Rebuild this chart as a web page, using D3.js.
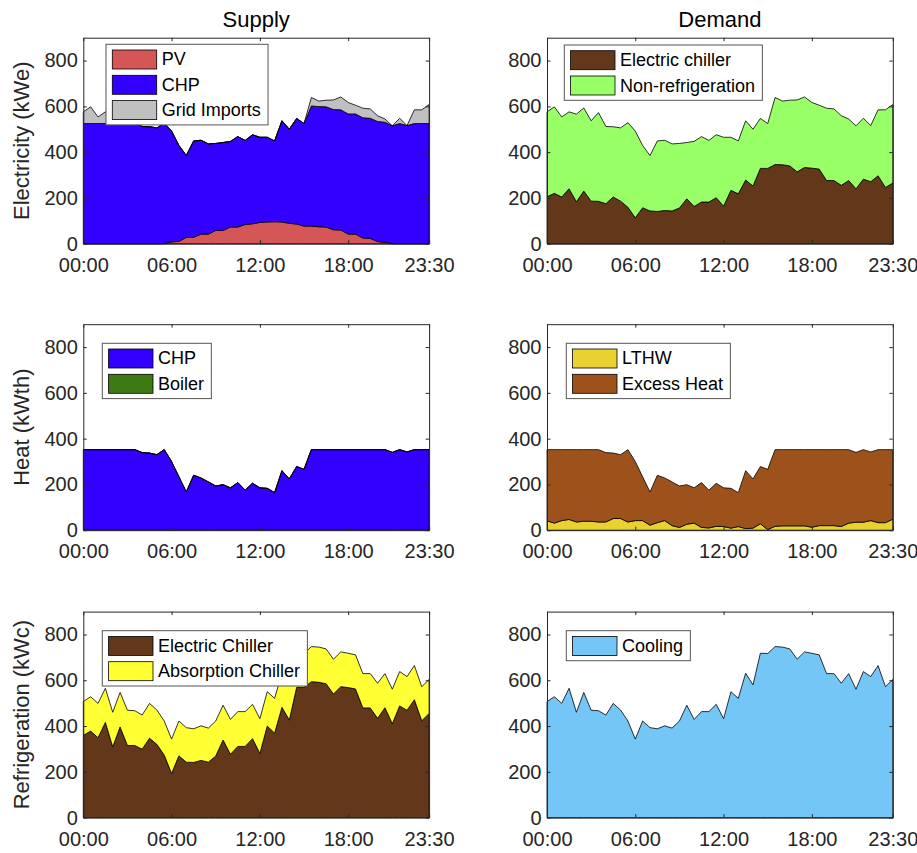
<!DOCTYPE html>
<html>
<head>
<meta charset="utf-8">
<script src="https://cdn.jsdelivr.net/npm/d3@7"></script>
<style>
  html, body { margin: 0; padding: 0; background: #fff; }
  svg { display: block; font-family: "Liberation Sans", Arial, Helvetica, sans-serif; }
</style>
</head>
<body>
<svg id="chart" width="917" height="853"></svg>
<script>
// Half-hourly time steps over one day (index 0 = 00:00, 47 = 23:30)
const timeIndex = d3.range(48);
const xTickIndex = [0, 12, 24, 36, 47];
const xTickLabels = ["00:00", "06:00", "12:00", "18:00", "23:30"];
const yTicks = [0, 200, 400, 600, 800];
const yMax = 900;

// Electricity supply (kWe)
const pvElec = [0,0,0,0,0,0,0,0,0,0,0,0,
  8,10,28,28,42,42,58,58,73,73,84,87,
  93,95,96,95,89,86,77,77,74,73,61,60,
  42,42,25,23,9,6,0,0,0,0,0,0];
const chpElec = [525,525,525,525,525,525,525,525,512,511,506,525,
  484,419,357,421,410,394,380,384,374,395,367,389,
  372,370,353,442,411,461,448,525,525,525,525,525,
  525,525,525,525,525,525,515,525,516,525,525,525];
const gridImports = [51,73,29,51,41,68,12,48,0,0,0,4,
  0,0,0,0,0,0,0,0,0,0,0,0,
  0,0,0,0,0,0,0,37,24,29,42,56,
  50,38,42,41,25,14,0,23,0,60,60,83];

// Electricity demand (kWe)
const elecChillerElec = [205,220,204,240,183,230,186,185,175,204,186,159,
  113,157,143,141,145,143,156,196,163,182,182,201,
  164,233,218,278,252,329,329,346,345,340,314,333,
  330,326,276,276,255,276,240,282,271,297,246,265];
const nonRefrigElec = [371,378,350,336,383,363,351,388,337,307,320,370,
  379,272,242,308,307,293,282,246,284,286,269,275,
  301,232,231,259,248,218,196,293,278,287,314,308,
  287,279,316,313,304,269,275,266,245,288,339,343];

// Heat supply (kWth)
const chpHeat = [352,352,352,352,352,352,352,352,339,337,330,352,
  300,233,167,240,228,211,193,199,185,208,175,205,
  185,183,164,260,224,278,266,352,352,352,352,352,
  352,352,352,352,352,352,340,352,342,352,352,352];
const boilerHeat = [0,0,0,0,0,0,0,0,0,0,0,0,
  0,0,0,0,0,0,0,0,0,0,0,0,
  0,0,0,0,0,0,0,0,0,0,0,0,
  0,0,0,0,0,0,0,0,0,0,0,0];

// Heat demand (kWth)
const lthwHeat = [41,31,42,47,36,39,39,36,36,51,51,36,
  42,42,22,33,42,20,12,26,31,12,10,17,
  16,9,16,7,9,28,3,17,19,19,19,19,
  13,20,20,20,16,31,35,35,42,33,33,48];
const excessHeat = [311,321,310,305,316,313,313,316,303,286,279,316,
  258,191,145,207,186,191,181,173,154,196,165,188,
  169,174,148,253,215,250,263,335,333,333,333,333,
  339,332,332,332,336,321,305,317,300,319,319,304];

// Refrigeration supply (kWc)
const elecChillerCool = [359,378,349,416,309,396,315,315,299,347,320,273,
  193,270,242,241,250,242,269,339,277,311,311,345,
  280,400,369,482,426,569,569,594,591,585,540,572,
  568,562,479,479,434,480,410,488,469,515,423,455];
const absorptionCool = [148,150,150,149,151,151,154,152,149,152,150,149,
  150,152,151,147,151,149,153,152,152,152,152,150,
  152,150,152,149,154,149,148,153,154,152,152,152,
  150,149,150,150,153,149,151,150,147,149,149,148];

// Refrigeration demand (kWc)
const coolingDemand = [507,528,499,565,460,547,469,467,448,499,470,422,
  343,422,393,388,401,391,422,491,429,463,463,495,
  432,550,521,631,580,718,717,747,745,737,692,724,
  718,711,629,629,587,629,561,638,616,664,572,603];

// Grid of panels
const colX = [83.3, 547];
const rowY = [37.7, 324.2, 611.6];
const panelW = 345.8, panelH = 206;
const axisColor = "#262626";

const panels = [
  { col: 0, row: 0, title: "Supply", ylabel: "Electricity (kWe)", legendAt: [106, 44.3],
    series: [
      { name: "PV", values: pvElec, color: "#d45656" },
      { name: "CHP", values: chpElec, color: "#3300ff" },
      { name: "Grid Imports", values: gridImports, color: "#c0c0c0" }
    ] },
  { col: 1, row: 0, title: "Demand", legendAt: [564.3, 45],
    series: [
      { name: "Electric chiller", values: elecChillerElec, color: "#633719" },
      { name: "Non-refrigeration", values: nonRefrigElec, color: "#99ff66" }
    ] },
  { col: 0, row: 1, ylabel: "Heat (kWth)", legendAt: [102.3, 343.3],
    series: [
      { name: "CHP", values: chpHeat, color: "#3300ff" },
      { name: "Boiler", values: boilerHeat, color: "#3d7a14" }
    ] },
  { col: 1, row: 1, legendAt: [566.3, 343.3],
    series: [
      { name: "LTHW", values: lthwHeat, color: "#e8d130" },
      { name: "Excess Heat", values: excessHeat, color: "#9e521b" }
    ] },
  { col: 0, row: 2, ylabel: "Refrigeration (kWc)", legendAt: [102.3, 630.7],
    series: [
      { name: "Electric Chiller", values: elecChillerCool, color: "#633719" },
      { name: "Absorption Chiller", values: absorptionCool, color: "#ffff33" }
    ] },
  { col: 1, row: 2, legendAt: [566.3, 630.7],
    series: [
      { name: "Cooling", values: coolingDemand, color: "#73c6f6" }
    ] }
];

const svg = d3.select("#chart");

const x = d3.scaleLinear().domain([0, 47]).range([0, panelW]);
const y = d3.scaleLinear().domain([0, yMax]).range([panelH, 0]);

function styleAxis(g) {
  g.attr("font-size", null).attr("font-family", null);
  g.select(".domain").attr("stroke", axisColor).attr("stroke-width", 1);
  g.selectAll(".tick line").attr("stroke", axisColor).attr("stroke-width", 1);
  g.selectAll(".tick text").attr("fill", axisColor).style("font-size", "20px");
}

panels.forEach(p => {
  const ox = colX[p.col], oy = rowY[p.row];
  const g = svg.append("g").attr("transform", `translate(${ox},${oy})`);

  // stacked areas
  const keys = p.series.map(s => s.name);
  const table = timeIndex.map(t => {
    const row = { t };
    p.series.forEach(s => { row[s.name] = s.values[t]; });
    return row;
  });
  const stacked = d3.stack().keys(keys)(table);
  const area = d3.area()
    .x(d => x(d.data.t))
    .y0(d => y(d[0]))
    .y1(d => y(d[1]));

  g.selectAll("path.layer")
    .data(stacked)
    .join("path")
    .attr("class", "layer")
    .attr("d", area)
    .attr("fill", (d, i) => p.series[i].color)
    .attr("stroke", "#000")
    .attr("stroke-width", 0.8)
    .attr("stroke-linejoin", "round");

  // axes on all four sides, ticks pointing inward
  g.append("g").attr("transform", `translate(0,${panelH})`)
    .call(d3.axisBottom(x).tickValues(xTickIndex)
      .tickFormat((d, i) => xTickLabels[i])
      .tickSizeInner(-3.5).tickSizeOuter(0).tickPadding(14))
    .call(styleAxis);
  g.append("g")
    .call(d3.axisTop(x).tickValues(xTickIndex).tickFormat("")
      .tickSizeInner(-3.5).tickSizeOuter(0))
    .call(styleAxis);
  g.append("g")
    .call(d3.axisLeft(y).tickValues(yTicks)
      .tickSizeInner(-3.5).tickSizeOuter(0).tickPadding(5.5))
    .call(styleAxis);
  g.append("g").attr("transform", `translate(${panelW},0)`)
    .call(d3.axisRight(y).tickValues(yTicks).tickFormat("")
      .tickSizeInner(-3.5).tickSizeOuter(0))
    .call(styleAxis);

  if (p.title) {
    g.append("text")
      .attr("x", panelW / 2).attr("y", -11.2)
      .attr("text-anchor", "middle")
      .attr("fill", "#000")
      .style("font-size", "22px")
      .text(p.title);
  }
  if (p.ylabel) {
    svg.append("text")
      .attr("transform", `translate(28.7,${oy + panelH / 2}) rotate(-90)`)
      .attr("text-anchor", "middle")
      .attr("fill", axisColor)
      .style("font-size", "22px")
      .text(p.ylabel);
  }

  // legend
  const [lx, ly] = p.legendAt;
  const lg = svg.append("g").attr("transform", `translate(${lx},${ly})`);
  const box = lg.append("rect")
    .attr("fill", "#fff").attr("stroke", "#555").attr("stroke-width", 1);
  const pitch = 25.3;
  let maxLen = 0;
  p.series.forEach((s, i) => {
    const top = 5.7 + i * pitch;
    lg.append("rect")
      .attr("x", 6.3).attr("y", top)
      .attr("width", 44.4).attr("height", 19)
      .attr("fill", s.color).attr("stroke", "#000").attr("stroke-width", 0.8);
    const t = lg.append("text")
      .attr("x", 55.7).attr("y", top + 9.5)
      .attr("dominant-baseline", "central")
      .attr("fill", "#000")
      .style("font-size", "18px")
      .text(s.name);
    maxLen = Math.max(maxLen, t.node().getComputedTextLength());
  });
  box.attr("width", 55.7 + maxLen + 7.3)
     .attr("height", p.series.length * pitch + 4.7);
});
</script>
</body>
</html>
